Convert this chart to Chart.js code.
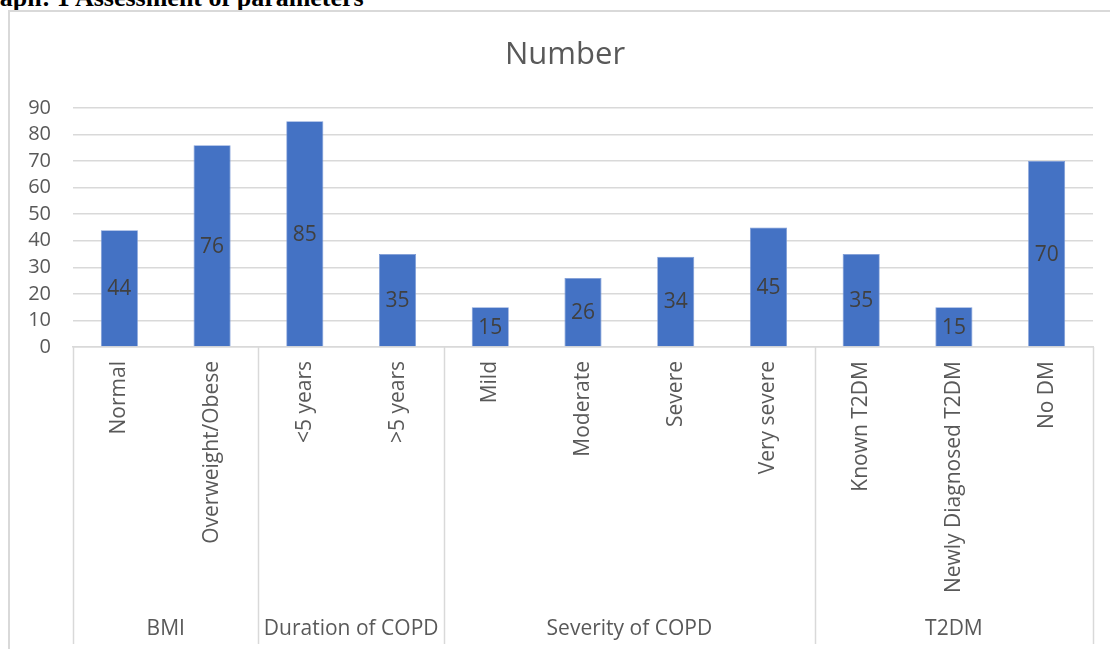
<!DOCTYPE html>
<html>
<head>
<meta charset="utf-8">
<style>
  html, body { margin: 0; padding: 0; background: #fff; overflow: hidden; }
  #wrap { position: relative; width: 1110px; height: 649px; overflow: hidden; }
  #caption {
    position: absolute; left: -32px; top: -17px; white-space: nowrap;
    font: bold 26px "Liberation Serif", "Times New Roman", serif; color: #000;
  }
  #frame {
    position: absolute; left: 8px; top: 10px; width: 1200px; height: 700px;
    border: 2px solid #d9d9d9; box-sizing: border-box;
  }
  #c { position: absolute; left: 0; top: 0; }
</style>
<script src="https://cdn.jsdelivr.net/npm/chart.js@4/dist/chart.umd.min.js"></script>
</head>
<body>
<div id="wrap">
  <div id="caption">Graph: 1 Assessment of parameters</div>
  <div id="frame"></div>
  <canvas id="c" width="1110" height="649"></canvas>
</div>
<script>
// Categories, values and groupings
const categories = ["Normal", "Overweight/Obese", "<5 years", ">5 years", "Mild", "Moderate",
                    "Severe", "Very severe", "Known T2DM", "Newly Diagnosed T2DM", "No DM"];
const numbers = [44, 76, 85, 35, 15, 26, 34, 45, 35, 15, 70];
const groupNames = ["BMI", "Duration of COPD", "Severity of COPD", "T2DM"];
const groupSizes = [2, 2, 4, 3];
const yTicks = [0, 10, 20, 30, 40, 50, 60, 70, 80, 90];

const FONT = '"Open Sans", "Noto Sans", sans-serif';
const GRID = '#d9d9d9';
const TEXT = '#595959';
const LABEL_SIZE = 21;

const decorations = {
  id: 'decorations',
  afterDatasetsDraw(chart) {
    const { ctx, chartArea } = chart;
    ctx.save();
    // value labels centred inside each bar
    const meta = chart.getDatasetMeta(0);
    ctx.font = LABEL_SIZE + 'px ' + FONT;
    ctx.fillStyle = '#404040';
    ctx.textAlign = 'center';
    ctx.textBaseline = 'middle';
    meta.data.forEach((bar, i) => {
      const mid = (bar.y + bar.base) / 2;
      ctx.fillText(String(numbers[i]), bar.x, mid + 1);
    });
    // group separators and group labels beneath the category labels
    const bottom = 644;
    const step = (chartArea.right - chartArea.left) / categories.length;
    ctx.strokeStyle = GRID;
    ctx.lineWidth = 1.5;
    let idx = 0;
    const edges = [chartArea.left];
    groupSizes.forEach(n => { idx += n; edges.push(chartArea.left + idx * step); });
    edges.forEach(ex => {
      ctx.beginPath();
      ctx.moveTo(Math.round(ex) + 0.5, chartArea.bottom);
      ctx.lineTo(Math.round(ex) + 0.5, bottom);
      ctx.stroke();
    });
    ctx.fillStyle = TEXT;
    groupNames.forEach((g, i) => {
      ctx.fillText(g, (edges[i] + edges[i + 1]) / 2, 629);
    });
    // chart title
    ctx.font = '31px ' + FONT;
    ctx.fillText('Number', 565, 55);
    ctx.restore();
  }
};

new Chart(document.getElementById('c'), {
  type: 'bar',
  data: {
    labels: categories,
    datasets: [{
      data: numbers,
      backgroundColor: '#4472c4',
      borderColor: '#7d9bd6',
      borderWidth: 0.8,
      barPercentage: 0.4,
      categoryPercentage: 1.0
    }]
  },
  options: {
    responsive: false,
    animation: false,
    layout: { padding: { top: 108, right: 17, bottom: 0, left: 0 } },
    plugins: { legend: { display: false }, tooltip: { enabled: false }, title: { display: false } },
    scales: {
      x: {
        grid: { display: false, drawTicks: false },
        border: { display: true, color: GRID, width: 1.5 },
        ticks: {
          color: TEXT, font: { family: FONT, size: LABEL_SIZE },
          minRotation: 90, maxRotation: 90, padding: 14, autoSkip: false
        },
        afterFit(scale) { scale.height = 302; }
      },
      y: {
        min: 0, max: 90,
        afterBuildTicks(scale) { scale.ticks = yTicks.map(v => ({ value: v })); },
        grid: { color: GRID, lineWidth: 1.5, drawTicks: false },
        border: { display: false },
        ticks: { color: TEXT, font: { family: FONT, size: 20 }, padding: 22, autoSkip: false },
        afterFit(scale) { scale.width = 73; }
      }
    }
  },
  plugins: [decorations]
});
</script>
</body>
</html>
